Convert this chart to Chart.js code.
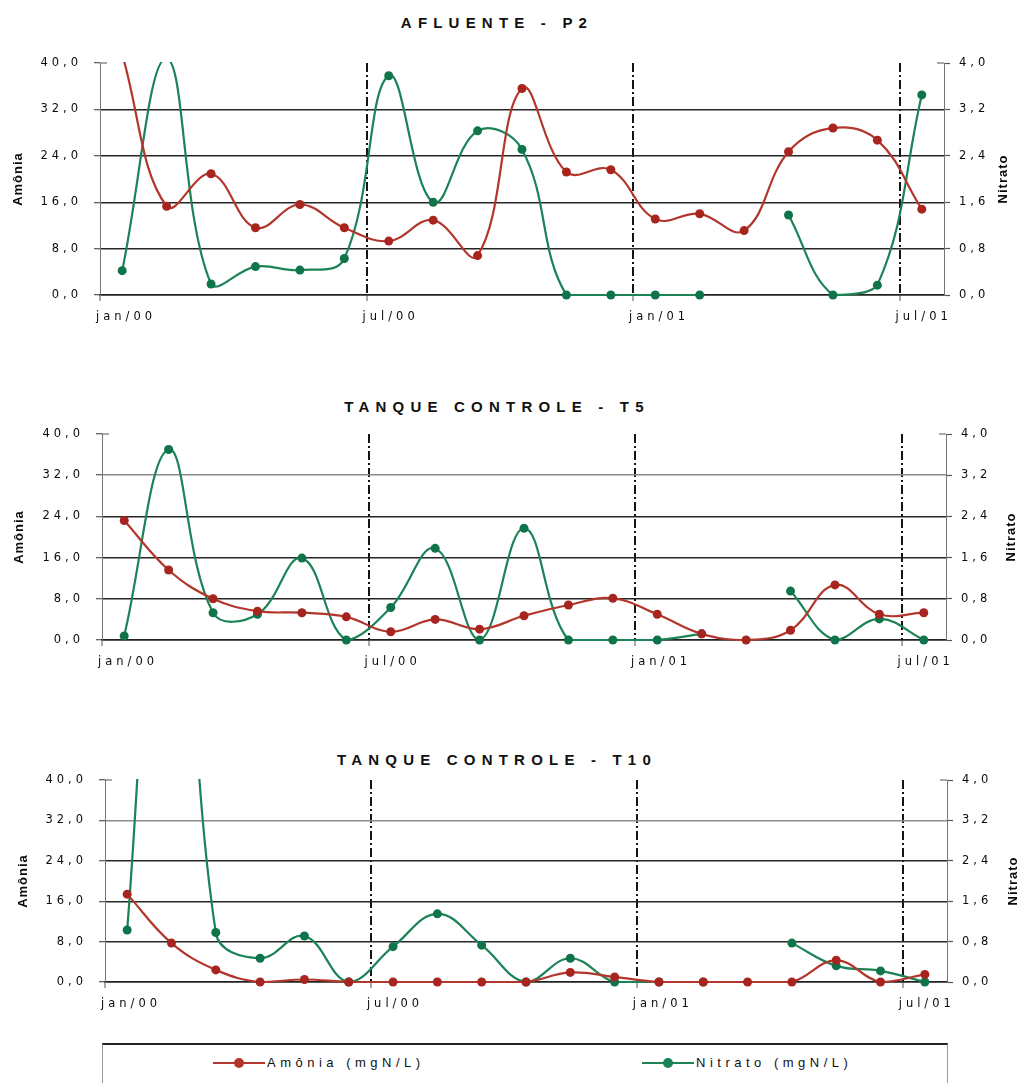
<!DOCTYPE html>
<html>
<head>
<meta charset="utf-8">
<script src="https://cdn.jsdelivr.net/npm/chart.js@4.4.1/dist/chart.umd.min.js"></script>
<style>
  html, body { margin: 0; background: #fff; }
  body { position: relative; width: 1019px; height: 1083px; overflow: hidden; }
  canvas { position: absolute; left: 0; }
  .title {
    position: absolute; left: 0; width: 994px; text-align: center;
    font: bold 15px 'Liberation Sans', Arial, sans-serif; letter-spacing: 6.2px;
    line-height: 18px; color: #111;
  }
  .legend {
    position: absolute; left: 102px; top: 1043px; width: 844px; height: 60px;
    border-top: 2px solid #222; border-left: 1px solid #999; border-right: 1px solid #999;
  }
  .item {
    position: absolute; top: 1055px; display: flex; align-items: center; white-space: nowrap;
    font: 13px 'Liberation Sans', Arial, sans-serif; letter-spacing: 4.5px; line-height: 16px; color: #111;
  }
  .mk { position: relative; display: inline-block; width: 52px; height: 2px; margin-right: 2px; }
  .mk::after {
    content: ''; position: absolute; left: 21px; top: -4px; width: 10px; height: 10px;
    border-radius: 50%; background: inherit;
  }
</style>
</head>
<body>
<div class="title" style="top:14px">AFLUENTE - P2</div>
<canvas id="p2" width="1019" height="340" style="top:0"></canvas>
<div class="title" style="top:398px">TANQUE CONTROLE - T5</div>
<canvas id="t5" width="1019" height="310" style="top:370px"></canvas>
<div class="title" style="top:751px">TANQUE CONTROLE - T10</div>
<canvas id="t10" width="1019" height="300" style="top:720px"></canvas>

<div class="legend"></div>
<div class="item" style="left:213px"><span class="mk" style="background:#b3362c"></span>Amônia (mgN/L)</div>
<div class="item" style="left:642px"><span class="mk" style="background:#1b8356"></span>Nitrato (mgN/L)</div>

<script>
// months sampled, one point per month
const MONTHS = ['jan/00', 'fev/00', 'mar/00', 'abr/00', 'mai/00', 'jun/00', 'jul/00', 'ago/00', 'set/00', 'out/00',
    'nov/00', 'dez/00', 'jan/01', 'fev/01', 'mar/01', 'abr/01', 'mai/01', 'jun/01', 'jul/01'];
// months that get a label and a dash-dot divider
const TICK_MONTHS = [0, 6, 12, 18];
const AMONIA_TICKS = [0, 8, 16, 24, 32, 40];
const NITRATO_TICKS = [0, 0.8, 1.6, 2.4, 3.2, 4.0];
const AXIS_TITLES = ['Amônia', 'Nitrato'];

// Afluente P2
const P2_AMONIA = [41.5, 15.3, 20.9, 11.6, 15.6, 11.6, 9.3, 12.9, 6.8, 35.6, 21.2, 21.6, 13.1, 14.0, 11.1, 24.7, 28.8, 26.7, 14.8];
const P2_NITRATO = [0.42, 4.08, 0.19, 0.49, 0.43, 0.63, 3.78, 1.60, 2.83, 2.51, 0, 0, 0, 0, null, 1.38, 0, 0.17, 3.45];

// Tanque controle T5
const T5_AMONIA = [23.2, 13.6, 8.0, 5.6, 5.3, 4.5, 1.6, 4.0, 2.1, 4.7, 6.8, 8.1, 5.0, 1.2, 0, 1.9, 10.7, 5.0, 5.3];
const T5_NITRATO = [0.08, 3.70, 0.53, 0.50, 1.59, 0, 0.63, 1.78, 0, 2.17, 0, 0, 0, 0.12, null, 0.95, 0, 0.41, 0];

// Tanque controle T10
const T10_AMONIA = [17.4, 7.7, 2.4, 0, 0.5, 0, 0, 0, 0, 0, 1.9, 1.0, 0, 0, 0, 0, 4.3, 0, 1.5];
const T10_NITRATO = [1.03, 12, 0.98, 0.47, 0.91, 0, 0.70, 1.35, 0.73, 0, 0.47, 0, 0, 0, null, 0.77, 0.32, 0.22, 0];

const RED = '#b3362c';
const RED_DOT = '#a8241f';
const GREEN = '#1b8356';
const GREEN_DOT = '#0f744a';
const INK = '#0a0a0a';
const TICK_FONT = { family: "'DejaVu Sans', sans-serif", size: 11.5 };
const TICK_SPACING = '4px';

const comma = (v) => Number(v).toFixed(1).replace('.', ',');

const axisText = {
    id: 'axisText',
    beforeLayout(chart) {
        chart.ctx.letterSpacing = TICK_SPACING;
    },
    beforeDraw(chart) {
        chart.ctx.letterSpacing = TICK_SPACING;
    },
    afterDraw(chart, args, opts) {
        const { ctx, chartArea, scales } = chart;
        const mid = (chartArea.top + chartArea.bottom) / 2;
        const spots = [chartArea.left - opts.leftGap, chartArea.right + opts.rightGap];

        // top ticks cross into the plot on both value axes
        ctx.save();
        ctx.strokeStyle = '#555';
        ctx.lineWidth = 1.2;
        ctx.beginPath();
        const yl = scales.y.getPixelForValue(AMONIA_TICKS[AMONIA_TICKS.length - 1]);
        ctx.moveTo(chartArea.left, yl);
        ctx.lineTo(chartArea.left + 7, yl);
        const yr = scales.y1.getPixelForValue(NITRATO_TICKS[NITRATO_TICKS.length - 1]);
        ctx.moveTo(chartArea.right - 7, yr);
        ctx.lineTo(chartArea.right, yr);
        ctx.stroke();
        ctx.restore();

        ctx.save();
        ctx.letterSpacing = '1px';
        ctx.font = "bold 13px 'Liberation Sans', Arial, sans-serif";
        ctx.fillStyle = INK;
        ctx.textAlign = 'center';
        ctx.textBaseline = 'middle';
        AXIS_TITLES.forEach((text, i) => {
            ctx.save();
            ctx.translate(spots[i], mid);
            ctx.rotate(-Math.PI / 2);
            ctx.fillText(text, 0, 0);
            ctx.restore();
        });
        ctx.restore();
    },
};

function series(label, values, color, dot, axis) {
    return {
        label,
        yAxisID: axis,
        data: values.map((y, x) => ({ x, y })),
        borderColor: color,
        backgroundColor: dot,
        borderWidth: 2.2,
        pointRadius: 4.5,
        pointBorderWidth: 0,
        pointBackgroundColor: dot,
        tension: 0.4,
        spanGaps: false,
        clip: { left: 8, right: 8, top: 1, bottom: 8 },
    };
}

const PANELS = [
    { id: 'p2', amonia: P2_AMONIA, nitrato: P2_NITRATO, canvasTop: 0, canvasHeight: 340,
        plot: { left: 100, right: 944, top: 63, bottom: 295 }, lightTop: false, leftGap: 82, rightGap: 59 },
    { id: 't5', amonia: T5_AMONIA, nitrato: T5_NITRATO, canvasTop: 370, canvasHeight: 310,
        plot: { left: 102, right: 946, top: 434, bottom: 640 }, lightTop: true, leftGap: 83, rightGap: 65 },
    { id: 't10', amonia: T10_AMONIA, nitrato: T10_NITRATO, canvasTop: 720, canvasHeight: 300,
        plot: { left: 105, right: 947, top: 780, bottom: 982 }, lightTop: true, leftGap: 82, rightGap: 66 },
];

function makeChart(panel) {
    const { left, right, top, bottom } = panel.plot;
    const hGrid = (ctx) => {
        const v = ctx.tick ? ctx.tick.value : 0;
        if (v === 40) return 'rgba(0,0,0,0)';
        if (v === 32 && panel.lightTop) return '#8c8c8c';
        return '#262626';
    };
    return new Chart(document.getElementById(panel.id), {
        type: 'line',
        data: {
            datasets: [
                series('Amônia (mgN/L)', panel.amonia, RED, RED_DOT, 'y'),
                series('Nitrato (mgN/L)', panel.nitrato, GREEN, GREEN_DOT, 'y1'),
            ],
        },
        options: {
            responsive: false,
            animation: false,
            events: [],
            layout: { padding: { top: top - panel.canvasTop, left: 0, right: 0, bottom: 0 } },
            plugins: {
                legend: { display: false },
                tooltip: { enabled: false },
                axisText: { leftGap: panel.leftGap, rightGap: panel.rightGap },
            },
            scales: {
                x: {
                    type: 'linear',
                    min: -0.5,
                    max: MONTHS.length - 0.5,
                    afterBuildTicks: (s) => { s.ticks = TICK_MONTHS.map((i) => ({ value: i - 0.5 })); },
                    afterFit: (s) => { s.height = panel.canvasTop + panel.canvasHeight - bottom; },
                    ticks: {
                        callback: (v, i) => MONTHS[TICK_MONTHS[i]],
                        align: 'start',
                        labelOffset: -4,
                        padding: 9,
                        maxRotation: 0,
                        autoSkip: false,
                        color: INK,
                        font: TICK_FONT,
                    },
                    grid: {
                        color: (c) => (c.tick && c.tick.value < 0 ? 'rgba(0,0,0,0)' : '#141414'),
                        lineWidth: 2,
                        tickLength: 6,
                        tickColor: '#555',
                        tickWidth: 1,
                    },
                    border: { display: true, color: '#222', width: 1.5, dash: [9, 3, 2, 3] },
                },
                y: {
                    position: 'left',
                    min: 0,
                    max: 40,
                    afterBuildTicks: (s) => { s.ticks = AMONIA_TICKS.map((value) => ({ value })); },
                    afterFit: (s) => { s.width = left; },
                    ticks: { callback: comma, padding: 12, color: INK, font: TICK_FONT },
                    grid: { color: hGrid, lineWidth: 1.4, tickLength: 6, tickColor: '#555', tickWidth: 1.2 },
                    border: { color: '#777', width: 1 },
                },
                y1: {
                    position: 'right',
                    min: 0,
                    max: 4,
                    afterBuildTicks: (s) => { s.ticks = NITRATO_TICKS.map((value) => ({ value })); },
                    afterFit: (s) => { s.width = 1019 - right; },
                    ticks: { callback: comma, padding: 9, color: INK, font: TICK_FONT },
                    grid: { drawOnChartArea: false, tickLength: 6, tickColor: '#555', tickWidth: 1.2 },
                    border: { color: '#777', width: 1 },
                },
            },
        },
        plugins: [axisText],
    });
}

PANELS.forEach(makeChart);
</script>
</body>
</html>
